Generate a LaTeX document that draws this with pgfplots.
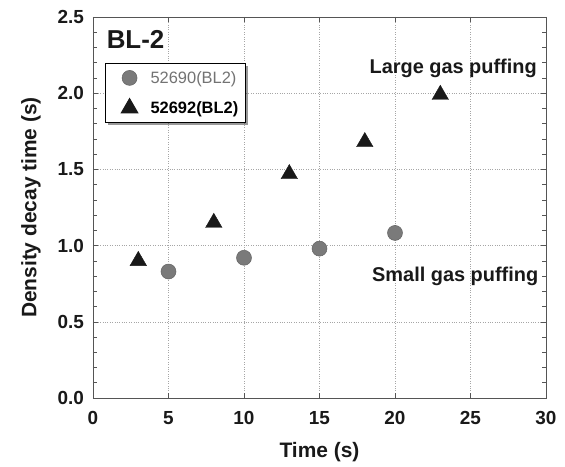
\documentclass[border=0pt]{standalone}
\usepackage{pgfplots}
\pgfplotsset{compat=1.18}
\usepackage{fontspec}
\setmainfont{Liberation Sans}
\usetikzlibrary{shadows}
\definecolor{circgray}{HTML}{7A7A7A}
\definecolor{axgray}{HTML}{555555}
\begin{document}
\begin{tikzpicture}
\begin{axis}[
  scale only axis,
  width=453bp, height=381bp,
  xmin=0, xmax=30, ymin=0, ymax=2.5,
  xtick={0,5,...,30},
  ytick={0,0.5,...,2.5},
  minor y tick num=4,
  tick align=inside,
  major tick length=5bp, minor tick length=4bp,
  axis line style={axgray, line width=0.8pt},
  every tick/.style={axgray, line width=0.6pt},
  grid=major,
  grid style={gray!70, dotted, line width=0.6pt},
  /pgf/number format/assume math mode=true,
  /pgf/number format/fixed,
  /pgf/number format/fixed zerofill,
  yticklabel style={/pgf/number format/precision=1, font=\fontsize{19}{22}\selectfont\bfseries, color=black!90, xshift=-5.5bp},
  xticklabel style={font=\fontsize{19}{22}\selectfont\bfseries, color=black!90, yshift=-9.5bp},
  xticklabel={\pgfmathprintnumber[precision=0,fixed,zerofill=false]{\tick}},
  xlabel={Time (s)},
  ylabel={Density decay time (s)},
  xlabel shift=11bp,
  ylabel shift=10bp,
  label style={font=\fontsize{21}{24}\selectfont\bfseries, color=black!90},
  legend style={at={(axis cs:0.8,2.2)}, anchor=north west, draw=black, line width=1pt,
    fill=white, drop shadow={shadow xshift=2.5bp, shadow yshift=-2.5bp, fill=black!80},
    font=\fontsize{16.5}{19}\selectfont, row sep=12bp, inner xsep=5bp, inner ysep=6bp,
    legend cell align=left},
  legend image code/.code={\path[draw=none,fill=none] (0bp,0bp) (38bp,0bp);\draw[#1] plot coordinates {(19bp,0bp)};},
]
\addplot[only marks, mark=*, mark size=7.5bp, mark options={fill=circgray, draw=circgray!80!black, line width=0.5pt}]
  coordinates {(5,0.83) (10,0.92) (15,0.98) (20,1.083)};
\addlegendentry{\textcolor{black!55}{52690(BL2)}}
\addplot[only marks, mark=triangle*, mark size=9.5bp, mark options={fill=black!90, draw=black!90}]
  coordinates {(3,0.90) (8,1.15) (13,1.47) (18,1.68) (23,1.99)};
\addlegendentry{\textbf{52692(BL2)}}
\node[anchor=west, font=\fontsize{26}{30}\selectfont\bfseries, text=black!90, inner sep=0pt] at (axis cs:0.9,2.355) {BL-2};
\node[anchor=east, font=\fontsize{20}{24}\selectfont\bfseries, text=black!90, inner sep=0pt] at (axis cs:29.4,2.16) {Large gas puffing};
\node[anchor=east, font=\fontsize{20}{24}\selectfont\bfseries, text=black!90, inner sep=0pt] at (axis cs:29.5,0.80) {Small gas puffing};
\end{axis}
\pgfresetboundingbox
\path (current axis.south west) ++(-93bp,-69bp) rectangle ++(565bp,467bp);
\end{tikzpicture}
\end{document}
